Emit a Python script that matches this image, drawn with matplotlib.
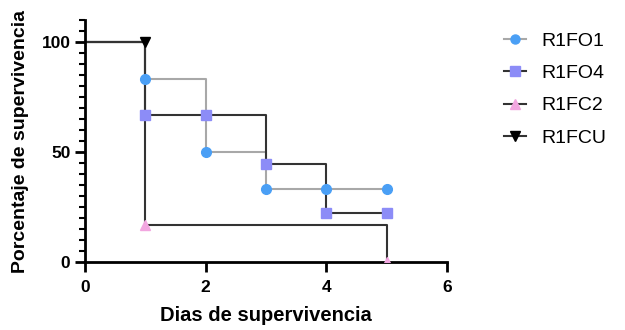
import matplotlib.pyplot as plt
from matplotlib.lines import Line2D

plt.rcParams['font.family'] = ['Liberation Sans', 'DejaVu Sans']

# Kaplan-Meier style data (days, % survival)
days = [0, 1, 2, 3, 4, 5]
r1fo1 = [100, 83.33, 50, 33.33, 33.33, 33.33]
r1fo4 = [100, 66.67, 66.67, 44.44, 22.22, 22.22]
r1fc2_days = [0, 1, 5]
r1fc2 = [100, 16.67, 0]
r1fcu_days = [0, 1]
r1fcu = [100, 100]

series = [
    ('R1FO1', days, r1fo1, 'o', '#4a9ff5', '#a8a8a8'),
    ('R1FO4', days, r1fo4, 's', '#8c8cf7', '#333333'),
    ('R1FC2', r1fc2_days, r1fc2, '^', '#f2a6e0', '#333333'),
    ('R1FCU', r1fcu_days, r1fcu, 'v', '#000000', '#333333'),
]

fig = plt.figure(figsize=(6.25, 3.3), dpi=100)
ax = fig.add_axes([0.136, 0.206, 0.579, 0.733])

handles = []
for name, x, y, mk, mc, lc in series:
    ax.step(x, y, where='post', color=lc, lw=1.5, zorder=2)
    ax.plot(x[1:], y[1:], ls='none', marker=mk, color=mc, ms=7, zorder=3)
    handles.append(Line2D([], [], color=lc, lw=1.5, marker=mk, mfc=mc, mec=mc, ms=6.5, label=name))

ax.set_xlim(0, 6)
ax.set_ylim(0, 110)
ax.set_xticks([0, 2, 4, 6])
ax.set_yticks([0, 50, 100])
ax.set_yticks(range(0, 111, 5), minor=True)
for s in ['top', 'right']:
    ax.spines[s].set_visible(False)
for s in ['left', 'bottom']:
    ax.spines[s].set_linewidth(2)
ax.tick_params(axis='both', which='major', width=2, length=7, labelsize=12.5)
ax.tick_params(axis='x', which='major', pad=6)
ax.tick_params(axis='y', which='minor', width=1.5, length=4)
for lbl in ax.get_xticklabels() + ax.get_yticklabels():
    lbl.set_fontweight('bold')

ax.set_xlabel('Dias de supervivencia', fontsize=14.5, fontweight='bold', labelpad=8)
ax.set_ylabel('Porcentaje de supervivencia', fontsize=14, fontweight='bold', labelpad=9)

fig.legend(handles=handles, loc='upper left', bbox_to_anchor=(0.778, 0.955),
           frameon=False, fontsize=14, handlelength=1.15, handletextpad=0.8,
           labelspacing=0.75)

fig.savefig('out.png', dpi=100)
